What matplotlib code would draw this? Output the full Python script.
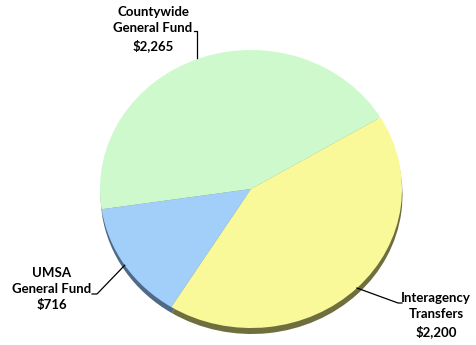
import numpy as np
import matplotlib
matplotlib.use("Agg")
import matplotlib.pyplot as plt

# budget by funding source (thousands)
labels = ["Countywide\nGeneral Fund\n$2,265", "UMSA\nGeneral Fund\n$716", "Interagency\nTransfers\n$2,200"]
values = [2265, 716, 2200]
colors = ["#cdf9cd", "#a2cefa", "#f9f99a"]
shadow_colors = ["#7a9a7a", "#4f6a86", "#6f6e3e"]

# label text anchor (pixels, top-left origin) and elbow of the leader
label_pos = [(153, 29), (52, 289), (436, 315)]
elbows = [[(194, 31), (197, 31)], [(92, 294), (97, 294)], [(402, 303), (398, 303)]]

W, H = 477, 345
cx, cy, rx, ry = 251, 189, 151, 139

fig = plt.figure(figsize=(W / 100, H / 100), dpi=100)
ax = fig.add_axes([(cx - rx) / W, (H - cy - ry) / H, 2 * rx / W, 2 * ry / H])

# shadow pie, shifted down a bit
ax.pie(values, colors=shadow_colors, startangle=31, counterclock=True,
       center=(0.5 / rx, -6 / ry), radius=1.0, wedgeprops=dict(linewidth=0))
wedges, _ = ax.pie(values, colors=colors, startangle=31, counterclock=True,
                   radius=1.0, wedgeprops=dict(linewidth=0))
ax.set_aspect("auto")
ax.set_xlim(-1, 1)
ax.set_ylim(-1, 1)
ax.axis("off")

# overlay in pixel coords for labels
ov = fig.add_axes([0, 0, 1, 1])
ov.set_xlim(0, W)
ov.set_ylim(H, 0)
ov.axis("off")

for w, lab, (tx, ty), elb in zip(wedges, labels, label_pos, elbows):
    mid = np.deg2rad((w.theta1 + w.theta2) / 2)
    ex = cx + rx * np.cos(mid)
    ey = cy - ry * np.sin(mid)
    xs = [p[0] for p in elb] + [ex]
    ys = [p[1] for p in elb] + [ey]
    if lab.startswith("County"):
        xs = [elb[0][0], elb[1][0], elb[1][0]]
        ys = [elb[0][1], elb[1][1], ey]
    ov.plot(xs, ys, color="black", lw=0.9)
    ov.text(tx, ty, lab, ha="center", va="center", fontsize=9.5, fontweight="bold",
            family=["Lato", "DejaVu Sans"], linespacing=1.4, color="black")

fig.savefig("out.png", dpi=100)
